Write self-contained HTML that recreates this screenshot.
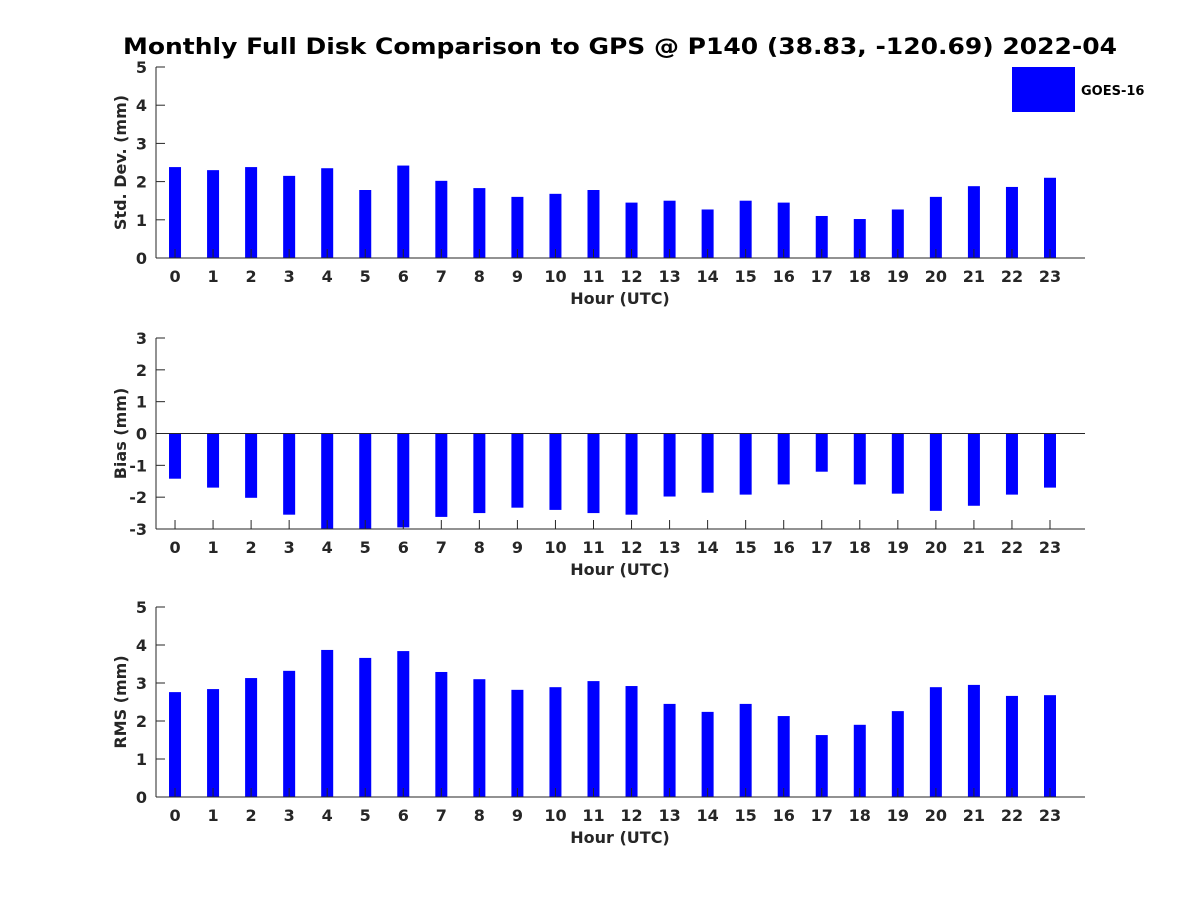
<!DOCTYPE html>
<html><head><meta charset="utf-8"><style>
body{margin:0;background:#fff;}
svg text{font-family:"DejaVu Sans","Liberation Sans",sans-serif;font-weight:bold;fill:#262626;}
</style></head><body>
<svg id="c" width="1200" height="900" xmlns="http://www.w3.org/2000/svg">
<rect width="1200" height="900" fill="#fff"/>
<text x="123" y="54" font-size="22" textLength="994" lengthAdjust="spacingAndGlyphs" style="fill:#000">Monthly Full Disk Comparison to GPS @ P140 (38.83, -120.69) 2022-04</text>
<g>
<rect x="1012" y="67" width="63" height="45" fill="#0000ff"/>
<text x="1081" y="95" font-size="13" style="fill:#000">GOES-16</text>
</g>
</svg>
<script>
const hours=[0,1,2,3,4,5,6,7,8,9,10,11,12,13,14,15,16,17,18,19,20,21,22,23];
const stdValues=[2.38,2.3,2.38,2.15,2.35,1.78,2.42,2.02,1.83,1.6,1.68,1.78,1.45,1.5,1.27,1.5,1.45,1.1,1.02,1.27,1.6,1.88,1.86,2.1];
const biasValues=[-1.42,-1.7,-2.02,-2.55,-3.0,-3.0,-2.95,-2.62,-2.5,-2.33,-2.4,-2.5,-2.55,-1.98,-1.86,-1.92,-1.6,-1.2,-1.6,-1.89,-2.43,-2.27,-1.92,-1.7];
const rmsValues=[2.76,2.84,3.13,3.32,3.87,3.66,3.84,3.29,3.1,2.82,2.89,3.05,2.92,2.45,2.24,2.45,2.13,1.63,1.9,2.26,2.89,2.95,2.66,2.68];
const stdTicks=[0,1,2,3,4,5];
const biasTicks=[-3,-2,-1,0,1,2,3];
const rmsTicks=[0,1,2,3,4,5];
const svg=document.getElementById('c');
const NS='http://www.w3.org/2000/svg';
function mk(tag,attrs,parent){const e=document.createElementNS(NS,tag);for(const k in attrs)e.setAttribute(k,attrs[k]);(parent||svg).appendChild(e);return e;}
const L=156,R=1085,xmin=-0.5,xmax=23.92;
function xs(v){return L+(v-xmin)/(xmax-xmin)*(R-L);}
function panel(name,top,bot,ymin,ymax,vals,ticks,ylabel,showZero){
  const g=mk('g',{});
  
  
  const ys=v=>bot-(v-ymin)/(ymax-ymin)*(bot-top);
  const base=ymin<0?ys(0):bot;
  vals.forEach((v,i)=>{
    const y0=ys(Math.max(ymin,Math.min(ymax,v)));
    const r=mk('rect',{x:xs(hours[i])-6,y:Math.min(y0,base),width:12,height:Math.abs(base-y0),fill:'#0000ff'},g);
    
    
  });
  const ya=mk('line',{x1:L,y1:top,x2:L,y2:bot,stroke:'#262626','stroke-width':1},g);
  
  
  const xa=mk('line',{x1:L,y1:bot,x2:R,y2:bot,stroke:'#262626','stroke-width':1},g);
  
  
  if(showZero){const z=mk('line',{x1:L,y1:ys(0),x2:R,y2:ys(0),stroke:'#262626','stroke-width':1},g);
    
    }
  ticks.forEach(t=>{
    const y=ys(t);
    mk('line',{x1:L,y1:y,x2:L+9,y2:y,stroke:'#262626'},g);
    const tx=mk('text',{x:L-9,y:y+6,'font-size':16,'text-anchor':'end'},g);
    tx.textContent=t;
    
    
  });
  hours.forEach(h=>{
    const x=xs(h);
    mk('line',{x1:x,y1:bot,x2:x,y2:bot-9,stroke:'#262626'},g);
    const tx=mk('text',{x:x,y:bot+24,'font-size':16,'text-anchor':'middle'},g);
    tx.textContent=h;
    
    
  });
  const xl=mk('text',{x:620,y:bot+46,'font-size':16,'text-anchor':'middle'},g);
  xl.textContent='Hour (UTC)';
  
  
  const cy=(top+bot)/2;
  const yl=mk('text',{x:0,y:0,'font-size':16,'text-anchor':'middle',transform:'translate(126,'+cy+') rotate(-90)'},g);
  yl.textContent=ylabel;
  
  
}
panel('std-dev',67,258,0,5,stdValues,stdTicks,'Std. Dev. (mm)',false);
panel('bias',338,529,-3,3,biasValues,biasTicks,'Bias (mm)',true);
panel('rms',607,797,0,5,rmsValues,rmsTicks,'RMS (mm)',false);
</script>
</body></html>
